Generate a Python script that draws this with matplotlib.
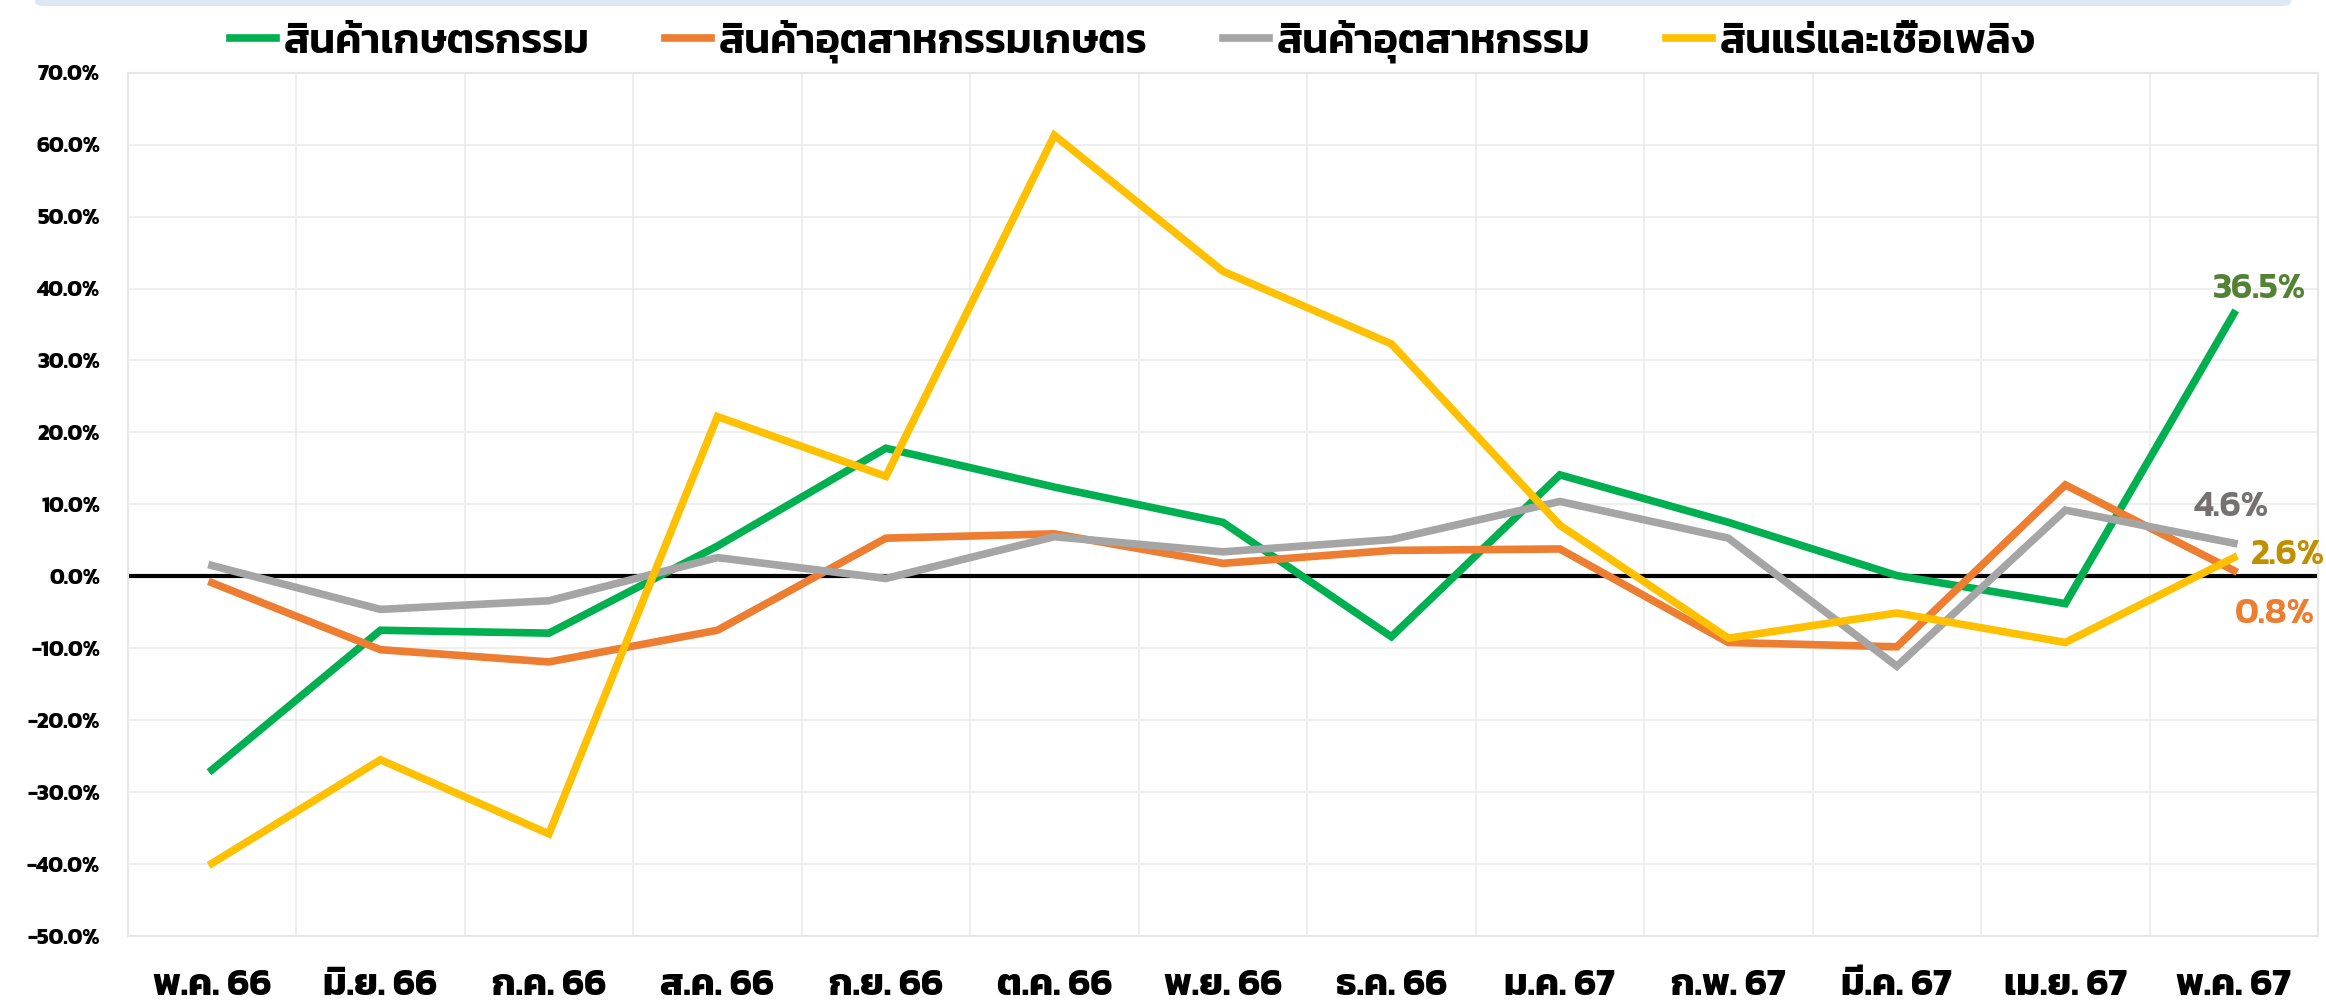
import matplotlib.pyplot as plt
from matplotlib.patches import FancyBboxPatch

plt.rcParams['font.family'] = ['Kanit', 'DejaVu Sans']

months = ['พ.ค. 66', 'มิ.ย. 66', 'ก.ค. 66', 'ส.ค. 66', 'ก.ย. 66', 'ต.ค. 66', 'พ.ย. 66',
          'ธ.ค. 66', 'ม.ค. 67', 'ก.พ. 67', 'มี.ค. 67', 'เม.ย. 67', 'พ.ค. 67']

agri = [-26.9, -7.5, -7.9, 4.2, 17.8, 12.4, 7.5, -8.4, 14.1, 7.5, 0.1, -3.8, 36.5]
agro_ind = [-0.9, -10.2, -11.9, -7.5, 5.3, 5.9, 1.8, 3.6, 3.8, -9.2, -9.8, 12.7, 0.8]
industry = [1.5, -4.6, -3.4, 2.6, -0.3, 5.5, 3.4, 5.1, 10.4, 5.3, -12.5, 9.2, 4.6]
mineral = [-39.9, -25.5, -35.8, 22.2, 13.9, 61.3, 42.4, 32.3, 7.1, -8.6, -5.1, -9.2, 2.6]

names = ['สินค้าเกษตรกรรม', 'สินค้าอุตสาหกรรมเกษตร', 'สินค้าอุตสาหกรรม', 'สินแร่และเชื้อเพลิง']
colors = ['#00B050', '#ED7D31', '#A5A5A5', '#FFC000']
label_colors = ['#548235', '#ED7D31', '#767171', '#BF9000']
label_offsets = [(26, 24), (41, -44), (-3, 36), (54, 2)]

fig = plt.figure(figsize=(23.26, 10.08), dpi=100)
ax = fig.add_axes([0.0549, 0.0714, 0.9417, 0.8565])

# pale band along the top edge
fig.patches.append(FancyBboxPatch((0.015, 0.994), 0.97, 0.01, boxstyle='round,pad=0,rounding_size=0.004',
                                  transform=fig.transFigure, color='#DCE9F5', lw=0))

x = list(range(len(months)))
series = [agri, agro_ind, industry, mineral]
for vals, name, c in zip(series, names, colors):
    ax.plot(x, vals, color=c, lw=5.5, label=name, solid_joinstyle='miter', zorder=3)

ax.axhline(0, color='black', lw=3, zorder=2)

for vals, c, off in zip(series, label_colors, label_offsets):
    ax.annotate(f'{vals[-1]:.1f}%', (x[-1], vals[-1]), xytext=off, textcoords='offset pixels',
                ha='center', va='center', fontsize=26, color=c, weight='semibold', zorder=4)

ax.set_xlim(-0.5, len(months) - 0.5)
ax.set_ylim(-50, 70)
ax.set_yticks(range(-50, 71, 10))
ax.set_yticklabels([f'{v:.1f}%' for v in range(-50, 71, 10)])
ax.set_xticks(x)
ax.set_xticklabels(months)
ax.set_xticks([i + 0.5 for i in range(-1, len(months))], minor=True)

ax.grid(axis='y', which='major', color='#EBEBEB', lw=1.2)
ax.grid(axis='x', which='minor', color='#EBEBEB', lw=1.2)
ax.grid(axis='x', which='major', visible=False)
ax.tick_params(axis='both', which='both', length=0)
ax.tick_params(axis='y', pad=20, labelsize=16)
ax.tick_params(axis='x', pad=24, labelsize=27)
for t in ax.get_yticklabels() + ax.get_xticklabels():
    t.set_fontweight('bold')
for s in ax.spines.values():
    s.set_color('#E6E6E6')
    s.set_linewidth(1.5)

fig.legend(loc='center', bbox_to_anchor=(0.487, 0.959), ncol=4, frameon=False,
           prop={'size': 30, 'weight': 'semibold'}, handlelength=1.1, handletextpad=0.2,
           columnspacing=1.8)

fig.savefig('out.png')
